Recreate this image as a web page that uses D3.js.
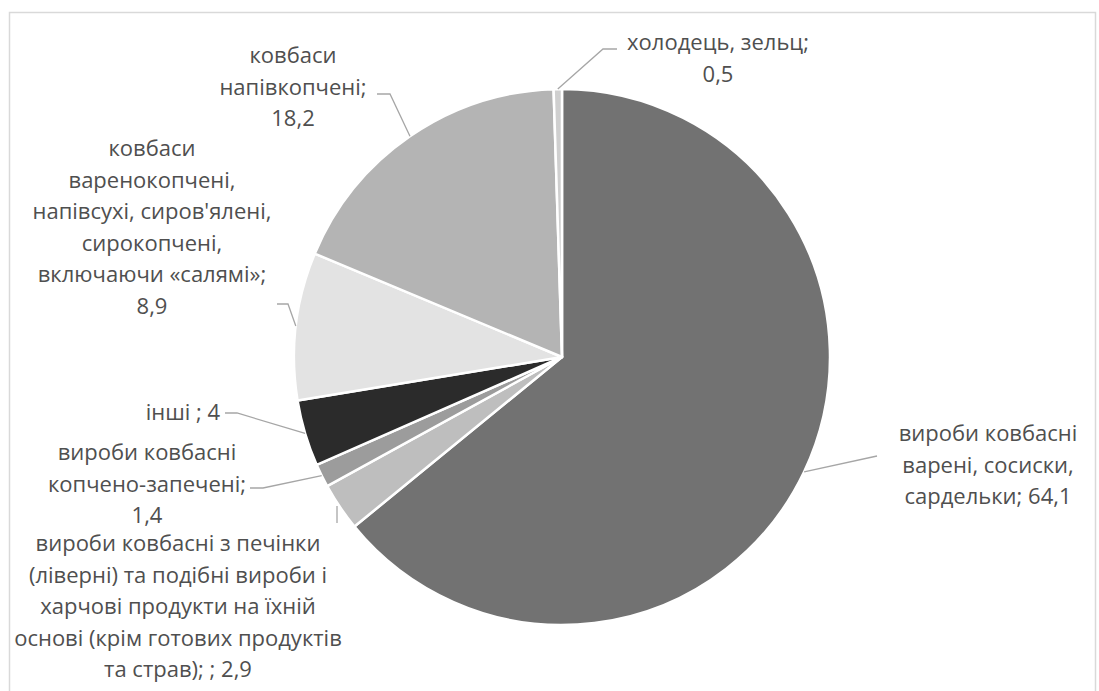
<!DOCTYPE html>
<html>
<head>
<meta charset="utf-8">
<script src="https://cdn.jsdelivr.net/npm/d3@7/dist/d3.min.js"></script>
<style>
  html, body { margin: 0; padding: 0; background: #fff; }
  svg { display: block; }
  .pieLabel { font-family: "Open Sans", "Noto Sans", sans-serif; font-size: 22px; fill: #4f4f4f; }
</style>
</head>
<body>
<svg id="chart" width="1099" height="691"></svg>
<script>
  // values in %, clockwise from 12 o'clock
  var categories = [
    "вироби ковбасні варені, сосиски, сардельки",
    "вироби ковбасні з печінки (ліверні) та подібні вироби і харчові продукти на їхній основі (крім готових продуктів та страв); ",
    "вироби ковбасні копчено-запечені",
    "інші ",
    "ковбаси варенокопчені, напівсухі, сиров'ялені, сирокопчені, включаючи «салямі»",
    "ковбаси напівкопчені",
    "холодець, зельц"
  ];
  var values = [64.1, 2.9, 1.4, 4, 8.9, 18.2, 0.5];

  // wrapped label lines, {v} = value
  var labelLines = [
    ["вироби ковбасні", "варені, сосиски,", "сардельки; {v}"],
    ["вироби ковбасні з печінки", "(ліверні) та подібні вироби і", "харчові продукти на їхній", "основі (крім готових продуктів", "та страв); ; {v}"],
    ["вироби ковбасні", "копчено-запечені;", "{v}"],
    ["інші ; {v}"],
    ["ковбаси", "варенокопчені,", "напівсухі, сиров'ялені,", "сирокопчені,", "включаючи «салямі»;", "{v}"],
    ["ковбаси", "напівкопчені;", "{v}"],
    ["холодець, зельц;", "{v}"]
  ];

  var sliceColors = ["#727272", "#bebebe", "#9c9c9c", "#2b2b2b", "#e3e3e3", "#b4b4b4", "#cfcfcf"];

  // label layout: text centre x, first baseline y, leader elbow and end
  var labelLayout = [
    { x: 988, y: 441, elbow: null, end: [877, 456] },
    { x: 178, y: 551, elbow: null, end: [337, 523] },
    { x: 147, y: 460, elbow: [263, 488], end: [250, 488] },
    { x: 183, y: 420, elbow: [237, 413], end: [225, 413] },
    { x: 152, y: 156, elbow: [288, 304], end: [277, 304] },
    { x: 293, y: 63, elbow: [390, 94], end: [377, 94] },
    { x: 718, y: 50, elbow: [603, 49], end: [617, 49] }
  ];

  var cx = 562, cy = 357, radius = 268;
  var lineH = 31.5;

  var svg = d3.select("#chart");

  // chart frame
  svg.append("rect")
    .attr("x", 9.5).attr("y", 12.5)
    .attr("width", 1086).attr("height", 700)
    .attr("fill", "none")
    .attr("stroke", "#d9d9d9")
    .attr("stroke-width", 1.5);

  var fmt = function (v) { return String(v).replace(".", ","); };

  var pie = d3.pie().sort(null).value(function (d) { return d; });
  var arcs = pie(values);
  var arc = d3.arc().innerRadius(0).outerRadius(radius);
  var edgeArc = d3.arc().innerRadius(radius).outerRadius(radius);

  var g = svg.append("g").attr("transform", "translate(" + cx + "," + cy + ")");

  g.selectAll(".slice")
    .data(arcs)
    .enter().append("path")
    .attr("class", "slice")
    .attr("d", arc)
    .attr("fill", function (d, i) { return sliceColors[i]; })
    .attr("stroke", "#fff")
    .attr("stroke-width", 2.5)
    .attr("stroke-linejoin", "round");

  // leader lines from slice edge
  svg.selectAll(".leader")
    .data(arcs)
    .enter().append("polyline")
    .attr("class", "leader")
    .attr("points", function (d, i) {
      var L = labelLayout[i];
      var p = edgeArc.centroid(d);
      var start = [cx + p[0], cy + p[1]];
      if (i === 1) start = [L.end[0], L.end[1] - 17];
      var pts = [start];
      if (L.elbow) pts.push(L.elbow);
      pts.push(L.end);
      return pts.map(function (q) { return q.join(","); }).join(" ");
    })
    .attr("fill", "none")
    .attr("stroke", "#a6a6a6")
    .attr("stroke-width", 1.3);

  var labels = svg.selectAll(".pieLabel")
    .data(arcs)
    .enter().append("text")
    .attr("class", "pieLabel")
    .attr("text-anchor", "middle")
    .attr("x", function (d, i) { return labelLayout[i].x; })
    .attr("y", function (d, i) { return labelLayout[i].y; });

  labels.each(function (d, i) {
    var t = d3.select(this);
    labelLines[i].forEach(function (line, k) {
      t.append("tspan")
        .attr("x", labelLayout[i].x)
        .attr("dy", k === 0 ? 0 : lineH)
        .text(line.replace("{v}", fmt(values[i])));
    });
  });
</script>
</body>
</html>
